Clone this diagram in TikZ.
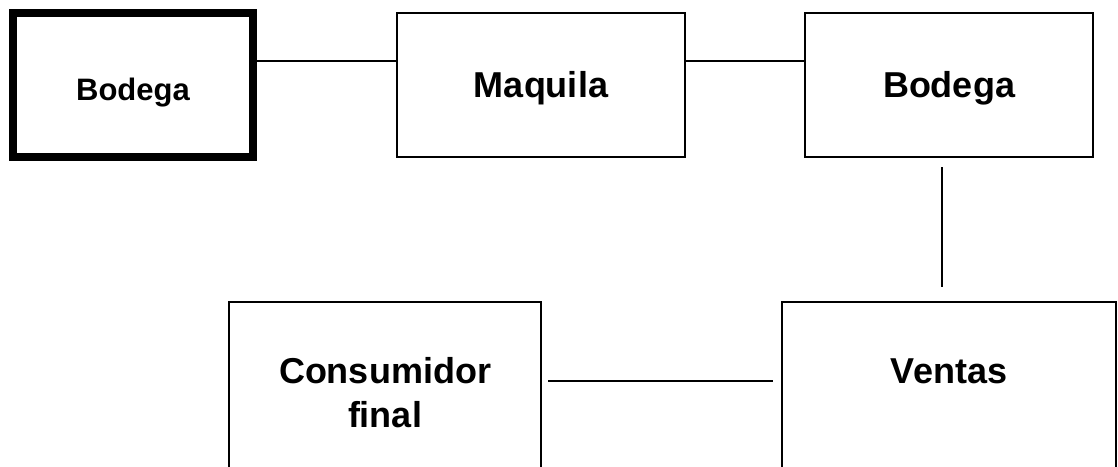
\documentclass[tikz,border=0pt]{standalone}
\usepackage{fontspec}
\setmainfont{Liberation Sans}
\begin{document}
\begin{tikzpicture}[x=1pt,y=-1pt,
  box/.style={draw, rectangle, line width=1.5pt, inner sep=0pt},
  thickbox/.style={box, line width=8pt},
  lbl/.style={font=\bfseries\fontsize{36}{44}\selectfont, align=center, inner sep=0pt, anchor=base},
  smalllbl/.style={lbl, font=\bfseries\fontsize{31}{38}\selectfont},
  conn/.style={line width=1.5pt}]
\useasboundingbox (0,0) rectangle (1118,466);
\clip (0,0) rectangle (1118,466);
% boxes
\node[thickbox, minimum width=240pt, minimum height=144pt] (b1) at (133,85) {};
\node[box, minimum width=288pt, minimum height=144pt] (maq) at (541,85) {};
\node[box, minimum width=288pt, minimum height=144pt] (b2) at (949,85) {};
\node[box, minimum width=312pt, minimum height=220pt] (cons) at (385,412) {};
\node[box, minimum width=334pt, minimum height=220pt] (ven) at (949,412) {};
% labels
\node[smalllbl] (t1) at (133,100) {Bodega};
\node[lbl] (t2) at (541,97) {Maquila};
\node[lbl] (t3) at (949,97) {Bodega};
\node[lbl] (t4) at (385,427) {Consumidor\\final};
\node[lbl] (t5) at (949,383) {Ventas};
% connector ends
\coordinate (h1) at (0,61);
\coordinate (v1) at (942,167);
\coordinate (v2) at (942,287);
\coordinate (c1) at (548,381);
\coordinate (c2) at (773,381);
% connectors
\draw[conn] (b1.east |- h1) -- (maq.west |- h1);
\draw[conn] (maq.east |- h1) -- (b2.west |- h1);
\draw[conn] (v1) -- (v2);
\draw[conn] (c1) -- (c2);
\end{tikzpicture}
\end{document}
